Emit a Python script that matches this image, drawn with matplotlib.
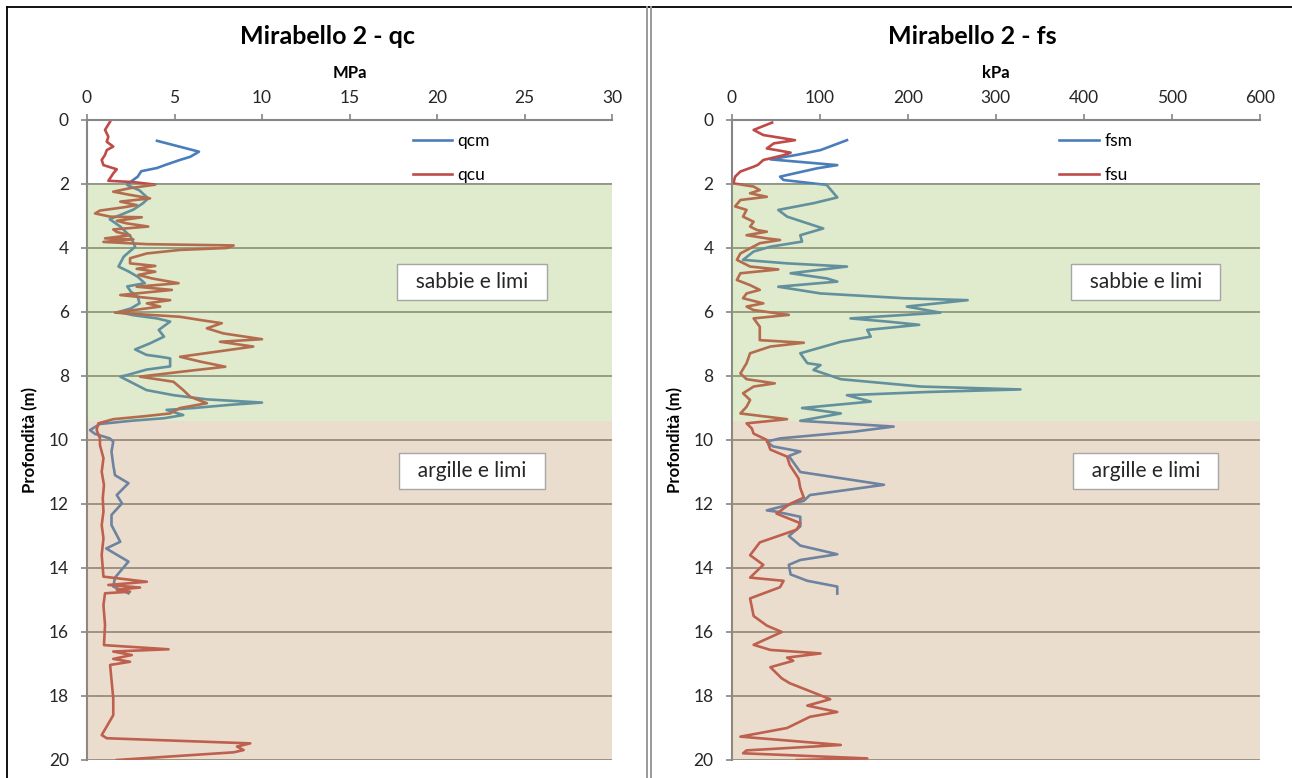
import matplotlib.pyplot as plt
from matplotlib.lines import Line2D

plt.rcParams['font.family'] = ['Lato', 'DejaVu Sans']

# Left chart: cone resistance qc (MPa) against depth (m)
qcm_depth = [0.65, 0.99, 1.15, 1.25, 1.4, 1.5, 1.6, 1.77, 1.93, 2.03, 2.2, 2.45, 2.6, 2.8,
             2.97, 3.1, 3.33, 3.65, 3.96, 4.27, 4.58, 4.74, 4.9, 5.1, 5.2, 5.36, 5.52, 5.73,
             5.89, 6.0, 6.1, 6.2, 6.3, 6.56, 6.77, 6.98, 7.17, 7.34, 7.4, 7.45, 7.7, 7.8,
             7.97, 8.02, 8.23, 8.44, 8.6, 8.73, 8.83, 8.9, 9.0, 9.06, 9.22, 9.32, 9.4, 9.5,
             9.69, 9.81, 9.95, 10.05, 10.36, 10.78, 11.1, 11.35, 11.72, 11.98, 12.34, 12.66,
             13.18, 13.39, 13.8, 14.3, 14.58, 14.79]
qcm = [4.0, 6.4, 5.9, 5.3, 4.5, 4.0, 3.1, 2.9, 2.5, 2.3, 3.0, 3.5, 3.2, 2.65,
       1.9, 1.3, 1.9, 2.5, 2.75, 2.1, 1.8, 2.4, 2.9, 3.3, 2.3, 2.5, 2.9, 3.0,
       2.5, 1.8, 2.65, 4.0, 4.75, 4.1, 4.4, 3.6, 2.75, 3.4, 4.2, 4.75, 4.75, 3.4,
       2.3, 1.9, 2.65, 3.4, 4.95, 6.85, 10.0, 8.2, 6.1, 4.55, 5.5, 4.4, 2.5, 0.74,
       0.17, 0.46, 1.3, 1.5, 1.4, 1.5, 1.6, 2.37, 1.7, 2.0, 1.4, 1.4,
       1.9, 1.1, 2.37, 1.6, 1.5, 2.37]

qcu_depth = [0.05, 0.31, 0.52, 0.68, 0.83, 0.94, 1.09, 1.25, 1.41, 1.54, 1.67, 1.82, 1.9,
             1.94, 2.02, 2.13, 2.24, 2.34, 2.45, 2.55, 2.66, 2.73, 2.83, 2.92, 3.02, 3.04,
             3.15, 3.23, 3.33, 3.42, 3.5, 3.6, 3.7, 3.73, 3.81, 3.88, 3.92, 4.0, 4.06, 4.17,
             4.32, 4.48, 4.56, 4.65, 4.74, 4.84, 4.95, 5.1, 5.21, 5.31, 5.47, 5.63, 5.73,
             5.83, 6.02, 6.15, 6.25, 6.35, 6.51, 6.67, 6.85, 6.93, 7.08, 7.4, 7.55, 7.71,
             7.86, 8.02, 8.18, 8.44, 8.65, 8.85, 9.0, 9.17, 9.25, 9.35, 9.48, 9.69, 9.95,
             10.16, 10.57, 10.99, 11.41, 11.82, 12.24, 12.66, 13.07, 13.59, 14.27, 14.43,
             14.53, 14.61, 14.68, 14.74, 14.79, 15.16, 15.78, 16.41, 16.54, 16.61, 16.72,
             16.84, 16.93, 17.03, 17.55, 18.07, 18.6, 19.22, 19.32, 19.48, 19.58, 19.69,
             19.76, 20.0]
qcu = [1.32, 1.03, 1.22, 1.13, 1.5, 1.13, 1.03, 0.84, 0.94, 1.7, 1.5, 1.32, 1.22,
       2.65, 3.9, 2.46, 1.5, 2.46, 3.6, 1.9, 2.84, 2.08, 0.74, 0.46, 1.32, 3.13,
       1.7, 2.27, 3.5, 1.5, 1.7, 2.46, 1.03, 2.65, 0.94, 3.42, 8.38, 8.0, 5.32, 3.42,
       2.46, 2.46, 3.9, 2.84, 3.9, 2.94, 3.7, 5.23, 2.84, 4.85, 1.9, 4.75, 3.42,
       4.18, 1.6, 5.32, 6.47, 7.7, 6.85, 7.8, 10.0, 7.6, 9.5, 5.32, 6.47, 7.9,
       5.5, 3.03, 4.94, 5.5, 5.9, 6.85, 5.32, 4.75, 3.42, 1.5, 0.65, 0.55, 0.74,
       0.74, 0.94, 0.84, 0.97, 0.9, 0.94, 0.84, 0.94, 0.84, 0.94, 3.42,
       1.22, 3.03, 1.7, 2.46, 1.03, 0.94, 1.03, 0.97, 4.66, 1.5, 2.56,
       1.5, 2.46, 1.32, 1.41, 1.5, 1.5, 0.84, 1.13, 9.33, 8.57, 8.95,
       8.38, 1.7]

# Right chart: sleeve friction fs (kPa) against depth (m)
fsm_depth = [0.63, 0.94, 1.09, 1.23, 1.41, 1.51, 1.77, 1.875, 2.03, 2.42, 2.6, 2.81, 3.02,
             3.39, 3.6, 3.8, 3.96, 4.11, 4.37, 4.48, 4.58, 4.79, 4.95, 5.05, 5.16, 5.21,
             5.42, 5.57, 5.63, 5.83, 6.02, 6.2, 6.3, 6.4, 6.56, 6.77, 6.93, 7.29, 7.6, 7.66,
             7.81, 8.1, 8.33, 8.42, 8.5, 8.6, 8.8, 9.0, 9.17, 9.25, 9.4, 9.58, 9.74, 9.95,
             10.05, 10.2, 10.36, 10.5, 11.0, 11.4, 11.72, 11.9, 12.2, 12.24, 12.4, 12.7,
             13.0, 13.3, 13.57, 13.75, 13.9, 14.2, 14.4, 14.58, 14.8]
fsm = [131, 101, 74, 44, 120, 97, 55, 59, 108, 120, 93, 53, 63,
       104, 78, 80, 44, 25, 13, 63, 131, 67, 108, 120, 74, 53,
       101, 196, 268, 199, 237, 135, 177, 213, 154, 158, 124, 78, 86, 101,
       93, 124, 215, 328, 222, 131, 158, 80, 124, 108, 78, 184, 139, 55,
       40, 47, 78, 65, 78, 173, 89, 82, 40, 51, 78, 78,
       65, 78, 120, 78, 65, 67, 86, 120, 120]

fsu_depth = [0.08, 0.31, 0.47, 0.63, 0.73, 0.89, 0.94, 1.02, 1.1, 1.25, 1.4, 1.46, 1.61,
             1.77, 1.98, 2.08, 2.19, 2.29, 2.4, 2.5, 2.7, 2.81, 3.02, 3.18, 3.33, 3.44,
             3.49, 3.6, 3.7, 3.75, 3.85, 4.01, 4.17, 4.37, 4.58, 4.67, 4.79, 5.0, 5.16,
             5.31, 5.42, 5.57, 5.73, 5.83, 5.94, 6.09, 6.2, 6.46, 6.88, 6.96, 7.08, 7.29,
             7.6, 7.92, 8.1, 8.23, 8.33, 8.54, 8.75, 8.96, 9.17, 9.35, 9.48, 9.64, 9.8,
             10.0, 10.3, 10.52, 10.78, 11.2, 11.5, 11.8, 12.0, 12.3, 12.6, 12.8, 13.0,
             13.2, 13.6, 13.9, 14.3, 14.4, 14.6, 14.95, 15.5, 15.8, 16.0, 16.4, 16.56,
             16.67, 16.8, 16.9, 17.1, 17.45, 17.6, 18.1, 18.3, 18.5, 18.65, 19.0, 19.27,
             19.53, 19.7, 19.79, 19.95, 20.0]
fsu = [46, 25, 36, 72, 48, 40, 51, 67, 59, 36, 30, 25, 10,
       4, 2, 25, 32, 21, 40, 10, 4, 17, 13, 25, 21, 29,
       40, 17, 40, 55, 32, 21, 10, 6, 21, 53, 10, 6, 21,
       32, 17, 13, 36, 17, 25, 65, 25, 32, 32, 82, 44, 21,
       17, 10, 17, 49, 25, 13, 21, 17, 10, 63, 17, 23, 25,
       40, 44, 63, 66, 76, 78, 82, 66, 51, 78, 74, 53,
       32, 21, 36, 21, 59, 55, 21, 25, 40, 57, 25, 44,
       101, 63, 70, 44, 57, 66, 112, 86, 120, 89, 63, 10,
       124, 17, 13, 154, 74]

# Soil layers
layer_top = [2.0, 9.4]
layer_bottom = [9.4, 20.0]
layer_names = ["sabbie e limi", "argille e limi"]
layer_label_depth = [5.05, 10.97]
layer_colors = ['#9bbb59', '#c0915f']

BLUE = '#4a7ebb'
RED = '#be4b48'
AXIS_GREY = '#868686'

fig = plt.figure(figsize=(12.92, 7.78), dpi=100)
ax_qc = fig.add_axes([87 / 1292, 1 - 760 / 778, 525 / 1292, 640 / 778])
ax_fs = fig.add_axes([731.6 / 1292, 1 - 760 / 778, 528.4 / 1292, 640 / 778])

panels = [
    (ax_qc, qcm_depth, qcm, qcu_depth, qcu, ['qcm', 'qcu'], 'MPa', 30, 5,
     'Mirabello 2 - qc', 328 / 1292, 22.0),
    (ax_fs, fsm_depth, fsm, fsu_depth, fsu, ['fsm', 'fsu'], 'kPa', 600, 100,
     'Mirabello 2 - fs', 972 / 1292, 470),
]

for ax, d1, v1, d2, v2, names, unit, xmax, xstep, title, title_x, label_x in panels:
    l1, = ax.plot(v1, d1, color=BLUE, lw=1.9, zorder=2, label=names[0])
    l2, = ax.plot(v2, d2, color=RED, lw=1.9, zorder=2, label=names[1])

    for top, bot, col in zip(layer_top, layer_bottom, layer_colors):
        ax.axhspan(top, bot, color=col, alpha=0.3, lw=0, zorder=3)
    for name, dep in zip(layer_names, layer_label_depth):
        ax.text(label_x, dep, '  ' + name + '  ', ha='center', va='center', fontsize=15,
                color='#262626', zorder=5,
                bbox=dict(boxstyle='square,pad=0.38', fc='white', ec='#a6a6a6', lw=1))

    ax.set_xlim(0, xmax)
    ax.set_ylim(20, 0)
    ax.set_xticks(range(0, xmax + 1, xstep))
    ax.set_yticks(range(0, 21, 2))
    ax.xaxis.tick_top()
    ax.xaxis.set_label_position('top')
    ax.tick_params(axis='both', direction='out', length=4, width=1.2, color=AXIS_GREY,
                   labelsize=12.5, labelcolor='#262626')
    ax.tick_params(axis='x', pad=6)
    ax.tick_params(axis='y', pad=9)
    ax.set_xlabel(unit, fontsize=12, fontweight='bold', labelpad=9)
    ax.set_ylabel('Profondità (m)', fontsize=12, fontweight='bold')
    ax.yaxis.set_label_coords(-0.092, 0.5)
    for side in ['right', 'bottom']:
        ax.spines[side].set_visible(False)
    for side in ['left', 'top']:
        ax.spines[side].set_color(AXIS_GREY)
        ax.spines[side].set_linewidth(1.5)
    ax.yaxis.grid(True, color='#7f7f7f', lw=1.2)
    ax.set_axisbelow(True)

    leg = ax.legend(handles=[l1, l2], loc='upper left', bbox_to_anchor=(0.62, 0.98),
                    frameon=False, fontsize=12.5, handlelength=2.3, handletextpad=0.3,
                    labelspacing=1.05, borderpad=0, borderaxespad=0)
    leg.set_zorder(6)

    fig.text(title_x, 1 - 36 / 778, title, ha='center', va='center', fontsize=18,
             fontweight='bold', color='black')

# chart frames as in the spreadsheet screenshot
fig.add_artist(Line2D([6.5 / 1292, 1], [1 - 6.5 / 778] * 2, transform=fig.transFigure,
                      color='black', lw=1.3))
fig.add_artist(Line2D([6.5 / 1292] * 2, [0, 1 - 6.5 / 778], transform=fig.transFigure,
                      color='black', lw=1.3))
for xs in [647.3, 650.8]:
    fig.add_artist(Line2D([xs / 1292] * 2, [0, 1 - 6.5 / 778], transform=fig.transFigure,
                          color='#9a9a9a', lw=1.4))

fig.savefig('out.png', dpi=100)
